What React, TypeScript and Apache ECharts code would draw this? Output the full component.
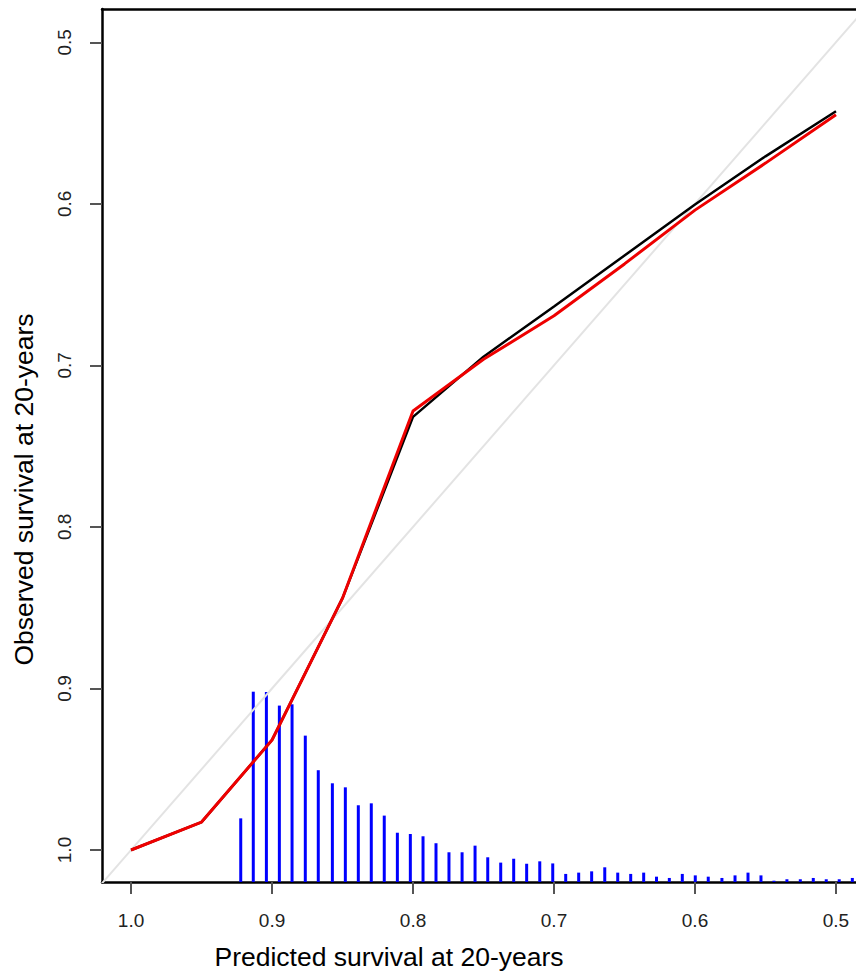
import { useEffect, useRef } from "react";
import * as echarts from "echarts";

// Predicted survival (x) and observed survival (y) for the two calibration curves
const predicted = [1.0, 0.95, 0.9, 0.85, 0.8, 0.75, 0.7, 0.65, 0.6, 0.55, 0.5];
const observedRed = [1.0, 0.9827, 0.9319, 0.8441, 0.7282, 0.6962, 0.6693, 0.6372, 0.6039, 0.5748, 0.5449];
const observedBlack = [1.0, 0.9827, 0.9319, 0.8441, 0.7319, 0.6946, 0.6635, 0.632, 0.6004, 0.5706, 0.5427];

// Reference line y = x
const diagonal = [1.05, 0.45];

// Spike histogram of predicted values: position and height (in y-axis units)
const spikeX = [
  0.9222, 0.9133, 0.904, 0.8948, 0.8858, 0.8764, 0.8672, 0.8572, 0.848, 0.8388,
  0.8296, 0.8204, 0.8111, 0.8019, 0.7929, 0.7837, 0.7745, 0.7652, 0.756, 0.747,
  0.7378, 0.7286, 0.7194, 0.7101, 0.7009, 0.6917, 0.6825, 0.6733, 0.664, 0.6548,
  0.6456, 0.6364, 0.6273, 0.6182, 0.609, 0.5998, 0.5906, 0.5809, 0.5716, 0.5624,
  0.5532, 0.544, 0.5348, 0.5253, 0.5161, 0.5069, 0.4977, 0.4884,
];
const spikeH = [
  0.0394, 0.1178, 0.1176, 0.1092, 0.11, 0.0906, 0.0692, 0.0611, 0.0586, 0.0475,
  0.0487, 0.0411, 0.0305, 0.0297, 0.0283, 0.024, 0.0184, 0.0184, 0.0225, 0.0153,
  0.012, 0.0144, 0.0113, 0.0128, 0.0115, 0.005, 0.0058, 0.0066, 0.0091, 0.0058,
  0.005, 0.0058, 0.0033, 0.0025, 0.005, 0.0041, 0.0033, 0.0025, 0.0041, 0.0058,
  0.0041, 0.0008, 0.0017, 0.0017, 0.0025, 0.0017, 0.0017, 0.0025,
];

const tickValues = [1.0, 0.9, 0.8, 0.7, 0.6, 0.5];

const xTitle = "Predicted survival at 20-years";
const yTitle = "Observed survival at 20-years";

const X_MIN = 0.4858;
const X_MAX = 1.0206;
const Y_MIN = 0.4794;
const Y_MAX = 1.0198;

const FONT = '"Liberation Sans", Arial, sans-serif';

export default function App() {
  const ref = useRef<HTMLDivElement>(null);

  useEffect(() => {
    if (!ref.current) return;
    const chart = echarts.init(ref.current, null, { renderer: "svg" });

    const tick = {
      show: true,
      customValues: tickValues,
      length: 12,
      lineStyle: { color: "#555", width: 2 },
    };
    const axisLine = { show: true, onZero: false, lineStyle: { color: "#000", width: 2.5 } };

    chart.setOption({
      animation: false,
      backgroundColor: "#fff",
      grid: {
        left: 102,
        top: 9,
        width: 754,
        height: 873,
        show: false,
        containLabel: false,
      },
      xAxis: [
        {
          type: "value",
          inverse: true,
          position: "bottom",
          min: X_MIN,
          max: X_MAX,
          splitLine: { show: false },
          axisLine,
          axisTick: tick,
          axisLabel: {
            customValues: tickValues,
            formatter: (v: number) => v.toFixed(1),
            fontFamily: FONT,
            fontSize: 19,
            color: "#222",
            margin: 29,
          },
        },
        {
          type: "value",
          inverse: true,
          position: "top",
          min: X_MIN,
          max: X_MAX,
          splitLine: { show: false },
          axisLine,
          axisTick: { show: false },
          axisLabel: { show: false },
        },
      ],
      yAxis: {
        type: "value",
        inverse: true,
        min: Y_MIN,
        max: Y_MAX,
        splitLine: { show: false },
        axisLine,
        axisTick: tick,
        axisLabel: {
          customValues: tickValues,
          formatter: (v: number) => v.toFixed(1),
          fontFamily: FONT,
          fontSize: 19,
          color: "#222",
          rotate: 90,
          margin: 28,
        },
      },
      series: [
        {
          type: "custom",
          z: 1,
          clip: true,
          renderItem: (params: any, api: any) => {
            const x = api.value(0);
            const h = api.value(1);
            const p0 = api.coord([x, Y_MAX]);
            const p1 = api.coord([x, Y_MAX - h]);
            return {
              type: "line",
              shape: { x1: p0[0], y1: p0[1], x2: p1[0], y2: p1[1] },
              style: { stroke: "#0000ff", lineWidth: 3 },
            };
          },
          data: spikeX.map((x, i) => [x, spikeH[i]]),
        },
        {
          type: "line",
          z: 2,
          symbol: "none",
          clip: true,
          lineStyle: { color: "#e3e3e3", width: 2 },
          data: diagonal.map((v) => [v, v]),
        },
        {
          type: "line",
          z: 3,
          symbol: "none",
          clip: true,
          lineStyle: { color: "#000", width: 2.5 },
          data: predicted.map((p, i) => [p, observedBlack[i]]),
        },
        {
          type: "line",
          z: 4,
          symbol: "none",
          clip: true,
          lineStyle: { color: "#ee0000", width: 3 },
          data: predicted.map((p, i) => [p, observedRed[i]]),
        },
      ],
      graphic: [
        {
          type: "text",
          x: 389,
          y: 957,
          style: {
            text: xTitle,
            font: `26.5px ${FONT}`,
            fill: "#000",
            align: "center",
            verticalAlign: "middle",
            textAlign: "center",
            textVerticalAlign: "middle",
          },
        },
        {
          type: "text",
          x: 23.5,
          y: 489.5,
          rotation: Math.PI / 2,
          style: {
            text: yTitle,
            font: `26.5px ${FONT}`,
            fill: "#000",
            align: "center",
            verticalAlign: "middle",
            textAlign: "center",
            textVerticalAlign: "middle",
          },
        },
      ],
    });

    return () => chart.dispose();
  }, []);

  return (
    <div
      ref={ref}
      style={{ position: "absolute", left: 0, top: 0, width: 856, height: 973 }}
    />
  );
}
